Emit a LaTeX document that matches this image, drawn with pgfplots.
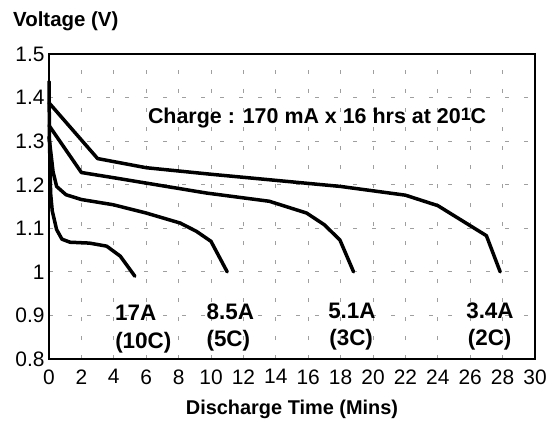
\documentclass[border=0pt]{standalone}
\usepackage{fontspec}
\setmainfont{Liberation Sans}
\usepackage{pgfplots}
\pgfplotsset{compat=1.18}
\begin{document}
\begin{tikzpicture}[x=1bp,y=1bp]
\useasboundingbox (0,0) rectangle (558,421);
\begin{axis}[
  at={(49bp,62bp)}, anchor=south west,
  scale only axis, width=486bp, height=305bp,
  xmin=0, xmax=30, ymin=0.8, ymax=1.5,
  xtick={0,2,...,30}, ytick={0.8,0.9,1.0,1.1,1.2,1.3,1.4,1.5},
  yticklabels={0.8,0.9,1,1.1,1.2,1.3,1.4,1.5},
  major tick length=0pt,
  grid=major,
  major grid style={gray!75, line width=0.8bp, dash pattern=on 4bp off 15bp},
  axis line style={line width=1.8bp},
  tick label style={font=\fontsize{21}{21}\selectfont},
  /pgf/number format/assume math mode=true,
  xticklabel style={yshift=-7bp},
  yticklabel style={xshift=-1bp},
  clip=false,
]
\addplot[black, line width=3.5bp, line join=round, line cap=round] coordinates {
(0,1.388) (3.0,1.26) (6.0,1.239) (10,1.224) (14,1.21) (18,1.196) (22,1.176) (24,1.152) (27,1.083) (27.85,1.0)};
\addplot[black, line width=3.5bp, line join=round, line cap=round] coordinates {
(0,1.336) (2.0,1.228) (4.0,1.216) (9.7,1.181) (13.6,1.162) (15.9,1.135) (17.0,1.108) (17.96,1.073) (18.8,1.0)};
\addplot[black, line width=3.5bp, line join=round, line cap=round] coordinates {
(0,1.31) (0.25,1.23) (0.47,1.196) (1.05,1.177) (2.0,1.166) (3.97,1.154) (6.0,1.135) (8.1,1.112) (9.1,1.093) (10.0,1.07) (11.0,1.0)};
\addplot[black, line width=3.5bp, line join=round, line cap=round] coordinates {
(0,1.437) (0.03,1.3) (0.1,1.18) (0.2,1.14) (0.47,1.097) (0.8,1.075) (1.3,1.068) (2.5,1.066) (3.56,1.059) (4.4,1.036) (5.3,0.99)};
\node[font=\fontsize{21.5}{21.5}\selectfont\bfseries, inner sep=0pt] at (axis cs:16.55,1.354) {Charge : 170 mA x 16 hrs at 20\raisebox{0.25ex}{\fontsize{18}{18}\selectfont 1}C};
\begin{scope}[every node/.style={font=\fontsize{22.5}{22.5}\selectfont\bfseries, inner sep=0pt}]
\node at (axis cs:5.35,0.905) {17A};
\node at (axis cs:5.82,0.838) {(10C)};
\node at (axis cs:11.19,0.909) {8.5A};
\node at (axis cs:11.07,0.842) {(5C)};
\node at (axis cs:18.7,0.911) {5.1A};
\node at (axis cs:18.65,0.845) {(3C)};
\node at (axis cs:27.22,0.911) {3.4A};
\node at (axis cs:27.2,0.845) {(2C)};
\end{scope}
\end{axis}
\node[anchor=west, font=\fontsize{20.5}{20.5}\selectfont\bfseries, inner sep=0pt] at (13,399.7) {Voltage (V)};
\node[font=\fontsize{20}{20}\selectfont\bfseries, inner sep=0pt] at (292,12) {Discharge Time (Mins)};
\end{tikzpicture}
\end{document}
